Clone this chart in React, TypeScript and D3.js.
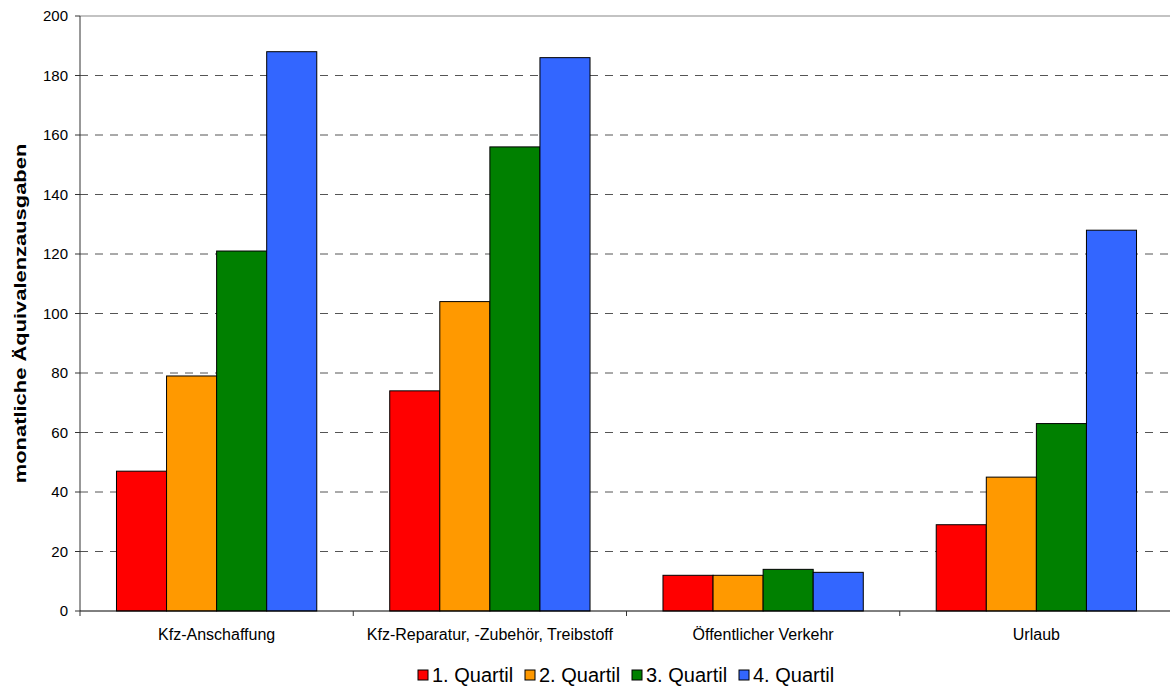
import React from "react";
import * as d3 from "d3";

const categories = ["Kfz-Anschaffung", "Kfz-Reparatur, -Zubehör, Treibstoff", "Öffentlicher Verkehr", "Urlaub"];
const seriesNames = ["1. Quartil", "2. Quartil", "3. Quartil", "4. Quartil"];
const colors = ["#ff0000", "#ff9900", "#008000", "#3366ff"];
const q1 = [47, 74, 12, 29];
const q2 = [79, 104, 12, 45];
const q3 = [121, 156, 14, 63];
const q4 = [188, 186, 13, 128];
const seriesValues = [q1, q2, q3, q4];
const yTicks = [0, 20, 40, 60, 80, 100, 120, 140, 160, 180, 200];

const W = 1170, H = 686;
const left = 80, right = 1173, top = 16, bottom = 611;
const font = "'Liberation Sans', Arial, sans-serif";

export default function App() {
  const x = d3.scaleBand<string>().domain(categories).range([left, right]).paddingInner(0).paddingOuter(0);
  const y = d3.scaleLinear().domain([0, 200]).range([bottom, top]);
  const groupW = x.bandwidth() * 0.733;
  const xs = d3.scaleBand<number>().domain([0, 1, 2, 3]).range([0, groupW]).padding(0);

  const legendX = [418, 525, 632, 739];

  return (
    <svg width={W} height={H} style={{ position: "absolute", left: 0, top: 0, background: "#fff" }} fontFamily={font}>
      {yTicks.filter(t => t > 0 && t < 200).map(t => (
        <line key={t} x1={left} x2={W} y1={y(t)} y2={y(t)} stroke="#555" strokeWidth={1} strokeDasharray="8,7" />
      ))}
      <line x1={left} x2={W} y1={y(200)} y2={y(200)} stroke="#888" strokeWidth={1.2} />
      {categories.map((c, ci) => {
        const gx = (x(c) as number) + (x.bandwidth() - groupW) / 2;
        return seriesValues.map((vals, si) => (
          <rect key={c + si} x={gx + (xs(si) as number)} y={y(vals[ci])} width={xs.bandwidth()}
            height={bottom - y(vals[ci])} fill={colors[si]} stroke="#000" strokeWidth={1} />
        ));
      })}
      <line x1={left} x2={left} y1={top} y2={bottom} stroke="#333" strokeWidth={1} />
      <line x1={left} x2={W} y1={bottom} y2={bottom} stroke="#000" strokeWidth={1} />
      {yTicks.map(t => (
        <g key={t}>
          <line x1={left - 5} x2={left} y1={y(t)} y2={y(t)} stroke="#333" />
          <text x={left - 12} y={y(t)} dy="0.36em" textAnchor="end" fontSize={15}>{t}</text>
        </g>
      ))}
      {categories.map((c, i) => (
        <g key={c}>
          <line x1={(x(c) as number)} x2={(x(c) as number)} y1={bottom} y2={bottom + 5} stroke="#333" />
          <text x={(x(c) as number) + x.bandwidth() / 2} y={bottom + 29} textAnchor="middle" fontSize={16}>{c}</text>
        </g>
      ))}
      <text transform={`translate(26,${(top + bottom) / 2}) rotate(-90) scale(1.37,1)`} textAnchor="middle" fontSize={16} fontWeight="bold">
        monatliche Äquivalenzausgaben
      </text>
      {seriesNames.map((s, i) => (
        <g key={s}>
          <rect x={legendX[i]} y={670} width={10} height={10} fill={colors[i]} stroke="#000" strokeWidth={1} />
          <text x={legendX[i] + 14} y={682} fontSize={20}>{s}</text>
        </g>
      ))}
    </svg>
  );
}
